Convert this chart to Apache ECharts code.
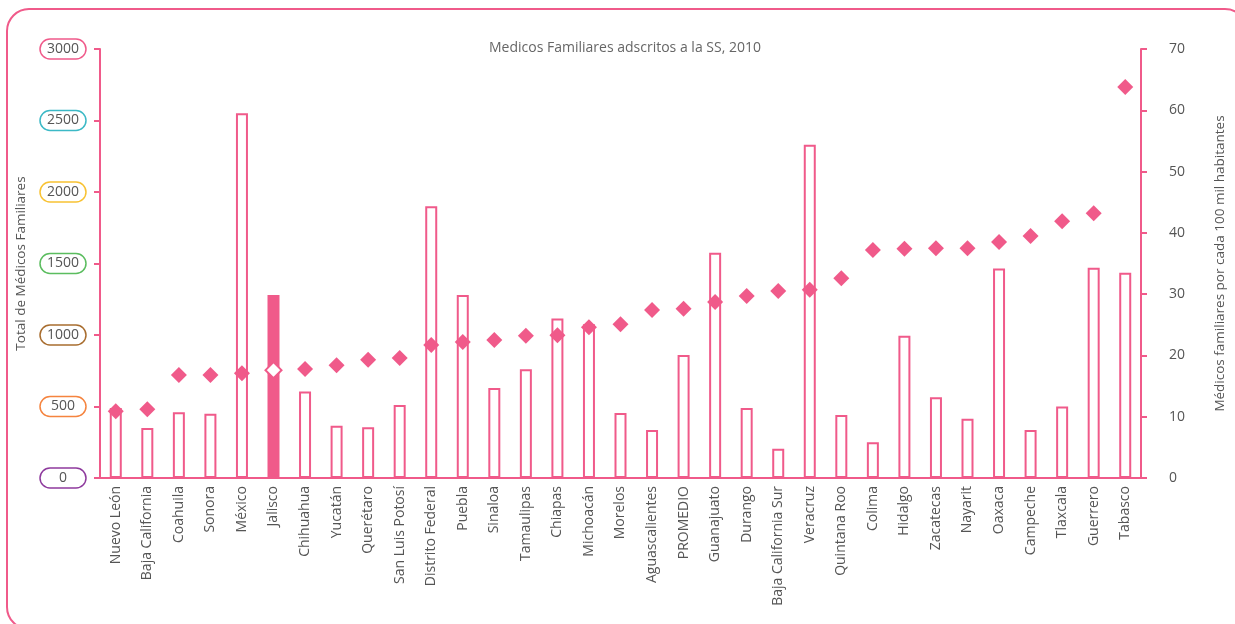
<!DOCTYPE html>
<html>
<head>
<meta charset="utf-8">
<title>Medicos Familiares adscritos a la SS, 2010</title>
<script src="https://cdn.jsdelivr.net/npm/echarts@6/dist/echarts.min.js"></script>
<style>
	html, body { margin: 0; padding: 0; background: #fff; }
	#main { width: 1235px; height: 624px; }
</style>
</head>
<body>
<div id="main"></div>
<script>
	'use strict';
	var estados = ['Nuevo León', 'Baja California', 'Coahuila', 'Sonora', 'México', 'Jalisco',
		'Chihuahua', 'Yucatán', 'Querétaro', 'San Luis Potosí', 'Distrito Federal', 'Puebla',
		'Sinaloa', 'Tamaulipas', 'Chiapas', 'Michoacán', 'Morelos', 'Aguascalientes', 'PROMEDIO',
		'Guanajuato', 'Durango', 'Baja California Sur', 'Veracruz', 'Quintana Roo', 'Colima',
		'Hidalgo', 'Zacatecas', 'Nayarit', 'Oaxaca', 'Campeche', 'Tlaxcala', 'Guerrero', 'Tabasco'];
	// total de medicos familiares (eje izquierdo)
	var totalMedicos = [490, 350, 460, 450, 2550, 1280, 605, 365, 355, 510, 1900, 1280,
		630, 760, 1115, 1075, 455, 335, 860, 1575, 490, 205, 2330, 440, 250,
		995, 565, 415, 1465, 335, 500, 1470, 1435];
	// medicos por cada 100 mil habitantes (eje derecho)
	var tasaMedicos = [10.9, 11.2, 16.8, 16.8, 17.1, 17.6, 17.8, 18.4, 19.3, 19.6, 21.7, 22.2,
		22.5, 23.2, 23.3, 24.6, 25.1, 27.4, 27.6, 28.7, 29.7, 30.5, 30.7, 32.6, 37.2,
		37.4, 37.5, 37.5, 38.5, 39.5, 41.9, 43.2, 63.8];
	var ticksIzq = [0, 500, 1000, 1500, 2000, 2500, 3000];
	var coloresTick = ['#8e3a9d', '#f5843f', '#a86d2f', '#5bbd5f', '#f8c233', '#3cb9c6', '#f05a8a'];
	var destacado = 'Jalisco';

	var rosa = '#f05a8a';
	var gris = '#555';
	var fuente = 'Open Sans';

	var rich = {};
	ticksIzq.forEach(function (t, i) {
		rich['t' + i] = {
			borderColor: coloresTick[i],
			borderWidth: 1.5,
			borderRadius: 11,
			width: 46,
			height: 20,
			align: 'center',
			color: gris,
			fontSize: 14,
			fontFamily: fuente
		};
	});

	var barData = totalMedicos.map(function (v, i) {
		if (estados[i] === destacado) {
			return { value: v, itemStyle: { color: rosa } };
		}
		return v;
	});
	var puntoData = tasaMedicos.map(function (v, i) {
		if (estados[i] === destacado) {
			return { value: v, itemStyle: { color: '#fff', borderColor: rosa, borderWidth: 2 } };
		}
		return v;
	});

	var chart = echarts.init(document.getElementById('main'));
	chart.setOption({
		animation: false,
		textStyle: { fontFamily: fuente },
		graphic: [{
			type: 'rect',
			shape: { x: 7, y: 9, width: 1240, height: 620, r: 22 },
			style: { fill: 'none', stroke: rosa, lineWidth: 2 },
			silent: true
		}],
		title: {
			text: 'Medicos Familiares adscritos a la SS, 2010',
			left: 484,
			top: 36,
			textStyle: { color: '#666', fontSize: 14, fontWeight: 'normal', fontFamily: fuente }
		},
		grid: { left: 100, right: 88, top: 49, bottom: 146 },
		xAxis: {
			type: 'category',
			data: estados,
			axisLine: { lineStyle: { color: rosa, width: 2 } },
			axisTick: { length: 6, lineStyle: { color: rosa, width: 2 } },
			axisLabel: { rotate: 90, margin: 8, color: gris, fontSize: 14, fontFamily: fuente }
		},
		yAxis: [{
			type: 'value',
			min: 0,
			max: 3000,
			interval: 500,
			name: 'Total de Médicos Familiares',
			nameLocation: 'middle',
			nameRotate: 90,
			nameGap: 72,
			nameTextStyle: { color: gris, fontSize: 13.5, fontFamily: fuente },
			axisLine: { show: true, lineStyle: { color: rosa, width: 2 } },
			axisTick: { show: true, length: 6, lineStyle: { color: rosa, width: 2 } },
			splitLine: { show: false },
			axisLabel: {
				margin: 14,
				formatter: function (v) {
					return '{t' + ticksIzq.indexOf(v) + '|' + v + '}';
				},
				rich: rich
			}
		}, {
			type: 'value',
			min: 0,
			max: 70,
			interval: 10,
			position: 'right',
			name: 'Médicos familiares por cada 100 mil habitantes',
			nameLocation: 'middle',
			nameRotate: 90,
			nameGap: 72,
			nameTextStyle: { color: gris, fontSize: 13.5, fontFamily: fuente },
			axisLine: { show: true, lineStyle: { color: rosa, width: 2 } },
			axisTick: { show: true, length: 6, lineStyle: { color: rosa, width: 2 } },
			splitLine: { show: false },
			axisLabel: { margin: 28, color: gris, fontSize: 14, fontFamily: fuente }
		}],
		series: [{
			name: 'Total de Médicos Familiares',
			type: 'bar',
			barWidth: 12,
			data: barData,
			itemStyle: { color: '#fff', borderColor: rosa, borderWidth: 2 }
		}, {
			name: 'Médicos por cada 100 mil habitantes',
			type: 'scatter',
			yAxisIndex: 1,
			symbol: 'diamond',
			symbolSize: 16,
			data: puntoData,
			itemStyle: { color: rosa, opacity: 1 },
			z: 3
		}]
	});
</script>
</body>
</html>
